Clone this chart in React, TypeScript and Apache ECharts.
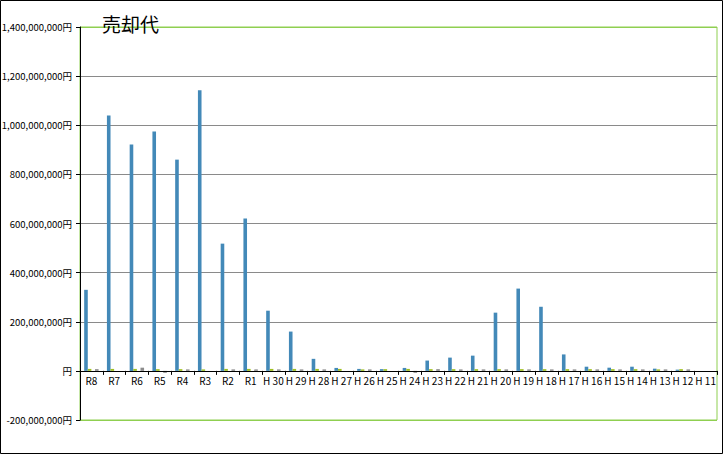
import React, { useEffect, useRef } from "react";
import * as echarts from "echarts";

const categories = [
  "R8", "R7", "R6", "R5", "R4", "R3", "R2", "R1",
  "H 30", "H 29", "H 28", "H 27", "H 26", "H 25", "H 24", "H 23", "H 22", "H 21",
  "H 20", "H 19", "H 18", "H 17", "H 16", "H 15", "H 14", "H 13", "H 12", "H 11",
];

// values in millions of yen
const blueValues = [
  330, 1040, 922, 975, 860, 1143, 518, 620,
  245, 160, 49, 12, 8, 7, 12, 42, 54, 62,
  237, 335, 261, 67, 17, 13, 17, 9, 5, 0,
];
const greenValues = [
  8, 8, 8, 7, 7, 6, 8, 8,
  8, 8, 8, 8, 6, 7, 8, 7, 7, 7,
  7, 7, 7, 7, 7, 7, 7, 6, 7, null,
];
const emptyValues = categories.map(() => null);
const grayValues = [
  7, null, 13, -8, 6, null, 6, 6,
  6, 6, 6, null, 6, null, -8, 7, 6, 6,
  6, 6, 6, 6, 6, 6, 6, 6, 6, null,
];

const yMin = -200;
const yMax = 1400;
const yStep = 200;

const FONT = "'Noto Sans CJK JP', 'Noto Sans', sans-serif";
const GREEN_LINE = "#8fcf50";
const GRAY_LINE = "#8a8a8a";

const GRID_TOP = 27;
const GRID_BOTTOM = 34;
const CHART_H = 454;

export default function App() {
  const ref = useRef<HTMLDivElement>(null);

  useEffect(() => {
    if (!ref.current) return;
    const chart = echarts.init(ref.current, undefined, { renderer: "svg" });
    const nLines = Math.round((yMax - yMin) / yStep) + 1;
    const lineColors = Array.from({ length: nLines }, (_, i) =>
      i === 0 || i === nLines - 1 ? GREEN_LINE : GRAY_LINE
    );
    const plotH = CHART_H - GRID_TOP - GRID_BOTTOM;
    const zeroOffset = -((0 - yMin) / (yMax - yMin)) * plotH;
    const barW = 3.6;
    chart.setOption({
      animation: false,
      backgroundColor: "#ffffff",
      textStyle: { fontFamily: FONT },
      title: {
        text: "売却代",
        left: 97,
        top: 9,
        textStyle: { fontSize: 19, fontWeight: "normal", color: "#000", fontFamily: FONT },
      },
      graphic: [
        {
          type: "rect",
          shape: { x: 0.5, y: 0.5, width: 722, height: 453 },
          style: { fill: "none", stroke: "#000", lineWidth: 1 },
          z: 100,
        },
      ],
      grid: {
        left: 80,
        right: 6,
        top: GRID_TOP,
        bottom: GRID_BOTTOM,
        show: true,
        borderColor: GREEN_LINE,
        borderWidth: 1,
        containLabel: false,
        outerBoundsMode: "none",
      },
      xAxis: {
        type: "category",
        data: categories,
        position: "bottom",
        offset: zeroOffset,
        axisLine: { onZero: false, lineStyle: { color: "#000", width: 1 } },
        axisTick: { show: true, interval: 0, length: 4, lineStyle: { color: "#000" } },
        axisLabel: { interval: 0, fontSize: 10, color: "#000", margin: 5, fontFamily: FONT },
        splitLine: { show: false },
        z: 5,
      },
      yAxis: {
        type: "value",
        min: yMin,
        max: yMax,
        interval: yStep,
        axisLine: { show: true, lineStyle: { color: "#000", width: 1 } },
        axisTick: { show: true, length: 4, lineStyle: { color: "#000" } },
        axisLabel: {
          fontSize: 9.5,
          color: "#000",
          margin: 8,
          fontFamily: FONT,
          formatter: (v: number) =>
            v === 0 ? "円" : (v * 1000000).toLocaleString("en-US") + "円",
        },
        splitLine: { show: true, lineStyle: { color: lineColors, width: 1 } },
      },
      series: [
        {
          name: "売却代",
          type: "bar",
          data: blueValues,
          barWidth: barW,
          barGap: "0%",
          itemStyle: { color: "#4389b8" },
        },
        {
          name: "B",
          type: "bar",
          data: greenValues,
          barWidth: barW,
          barGap: "0%",
          itemStyle: { color: "#9fbf22" },
        },
        {
          name: "C",
          type: "bar",
          data: emptyValues,
          barWidth: barW,
          barGap: "0%",
          itemStyle: { color: "#f0a030" },
        },
        {
          name: "D",
          type: "bar",
          data: grayValues,
          barWidth: barW,
          barGap: "0%",
          itemStyle: { color: "#8c8c8c" },
        },
      ],
    });
    return () => chart.dispose();
  }, []);

  return (
    <div
      ref={ref}
      style={{ position: "absolute", left: 0, top: 0, width: 723, height: 454 }}
    />
  );
}
